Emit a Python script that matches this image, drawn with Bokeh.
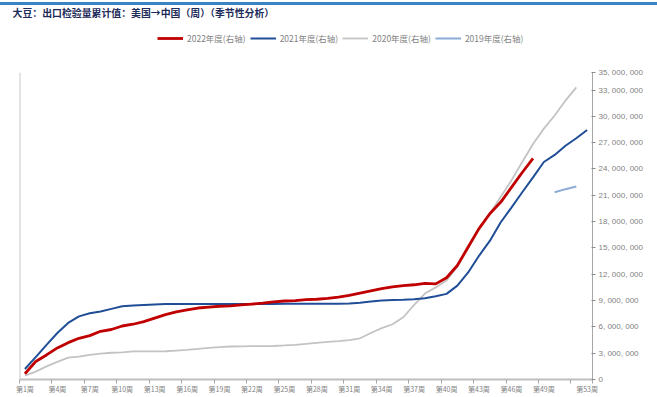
from bokeh.plotting import figure
from bokeh.layouts import column
from bokeh.models import (FixedTicker, Range1d, Legend, LegendItem, Title, Span)
from bokeh.embed import file_html
from bokeh.resources import INLINE

# Cumulative weekly export inspections, US -> China (million tonnes on the axis scale)
weeks_2022 = list(range(1, 49))
vals_2022 = [0.65, 2.05, 2.8, 3.6, 4.2, 4.7, 5.0, 5.5, 5.7, 6.1,
             6.3, 6.6, 7.0, 7.4, 7.7, 7.95, 8.15, 8.25, 8.35, 8.4,
             8.5, 8.6, 8.7, 8.85, 8.95, 9.0, 9.1, 9.15, 9.25, 9.4,
             9.6, 9.85, 10.1, 10.35, 10.55, 10.7, 10.8, 10.95, 10.9, 11.6,
             13.0, 15.1, 17.2, 18.9, 20.2, 21.9, 23.6, 25.2]

weeks_2021 = list(range(1, 54))
vals_2021 = [1.2, 2.55, 3.95, 5.3, 6.45, 7.2, 7.55, 7.75, 8.05, 8.35,
             8.45, 8.5, 8.55, 8.6, 8.6, 8.6, 8.6, 8.6, 8.6, 8.6,
             8.6, 8.62, 8.62, 8.62, 8.63, 8.63, 8.64, 8.64, 8.65, 8.65,
             8.67, 8.75, 8.9, 9.0, 9.05, 9.08, 9.15, 9.27, 9.5, 9.76,
             10.7, 12.2, 14.1, 15.8, 17.9, 19.6, 21.35, 23.05, 24.8, 25.6,
             26.65, 27.5, 28.45]

weeks_2020 = list(range(1, 53))
vals_2020 = [0.45, 0.9, 1.5, 2.0, 2.5, 2.6, 2.8, 2.95, 3.05, 3.1,
             3.2, 3.2, 3.2, 3.22, 3.3, 3.38, 3.5, 3.6, 3.7, 3.76,
             3.78, 3.8, 3.8, 3.82, 3.88, 3.95, 4.05, 4.18, 4.28, 4.37,
             4.5, 4.7, 5.3, 5.85, 6.3, 7.1, 8.5, 9.8, 10.5, 11.3,
             12.9, 15.0, 17.2, 18.9, 20.8, 22.7, 24.8, 26.85, 28.6, 30.1,
             31.8, 33.3]

weeks_2019 = [50, 51, 52]
vals_2019 = [21.35, 21.7, 22.0]

x_tick_weeks = [1, 4, 7, 10, 13, 16, 19, 22, 25, 28, 31, 34, 37, 40, 43, 46, 49, 53]
x_tick_labels = ["第1周", "第4周", "第7周", "第10周", "第13周", "第16周", "第19周",
                 "第22周", "第25周", "第28周", "第31周", "第34周", "第37周",
                 "第40周", "第43周", "第46周", "第49周", "第53周"]
x_tick_marks = [0.5, 3.5, 6.5, 9.5, 12.5, 15.5, 18.5, 21.5, 24.5, 27.5, 30.5,
                33.5, 36.5, 39.5, 42.5, 45.5, 48.5, 51.5, 53.5]

y_ticks = [0, 3, 6, 9, 12, 15, 18, 21, 24, 27, 30, 33, 35]
y_tick_labels = ["0", "3, 000, 000", "6, 000, 000", "9, 000, 000", "12, 000, 000",
                 "15, 000, 000", "18, 000, 000", "21, 000, 000", "24, 000, 000",
                 "27, 000, 000", "30, 000, 000", "33, 000, 000", "35, 000, 000"]

series_names = ["2022年度(右轴)", "2021年度(右轴)", "2020年度(右轴)", "2019年度(右轴)"]
series_colors = ["#c00000", "#1f4e96", "#c3c3c3", "#8eaad6"]
series_widths = [2.8, 2.0, 1.8, 2.0]
title_text = "大豆：出口检验量累计值：美国→中国（周）（季节性分析）"

CJK = "Noto Sans CJK SC"
AXIS_GREY = "#bfbfbf"
LABEL_GREY = "#7f7f7f"
RULE_BLUE = "#3b84c4"
W = 657
HEADER_H = 54
MAIN_H = 337

# ---- header: title and legend ----
head = figure(width=W, height=HEADER_H, output_backend="svg", toolbar_location=None,
              x_axis_type=None, y_axis_type=None,
              x_range=Range1d(0, 1), y_range=Range1d(0, 1),
              min_border_left=0, min_border_right=0, min_border_top=0,
              min_border_bottom=0)
head.outline_line_color = None
head.grid.visible = False
head.title = Title(text=title_text, text_font=CJK, text_font_size="9.9px",
                   text_font_style="bold", text_color="#1c2b5a",
                   align="left", vertical_align="top", offset=-7, standoff=0)

nan = float("nan")
key_renderers = [head.line(x=[0, 1], y=[nan, nan], line_color=c, line_width=w)
                 for c, w in zip(series_colors, series_widths)]
legend = Legend(items=[LegendItem(label=n, renderers=[r])
                       for n, r in zip(series_names, key_renderers)],
                orientation="horizontal", location=(138, 15),
                glyph_width=26, glyph_height=10, label_standoff=4, spacing=4,
                padding=0, margin=0, border_line_color=None,
                background_fill_alpha=0, label_text_font=CJK,
                label_text_font_size="8.5px", label_text_color=LABEL_GREY)
head.add_layout(legend)

# ---- main chart ----
p = figure(width=W, height=MAIN_H, output_backend="svg", toolbar_location=None,
           x_range=Range1d(0.5, 53.5), y_range=Range1d(0, 35),
           y_axis_location="right",
           min_border_left=19, min_border_right=65, min_border_top=13,
           min_border_bottom=16)
p.outline_line_color = None
p.xgrid.visible = False
p.ygrid.visible = False

p.line(weeks_2020, vals_2020, line_color=series_colors[2], line_width=series_widths[2])
p.line(weeks_2019, vals_2019, line_color=series_colors[3], line_width=series_widths[3])
p.line(weeks_2021, vals_2021, line_color=series_colors[1], line_width=series_widths[1])
p.line(weeks_2022, vals_2022, line_color=series_colors[0], line_width=series_widths[0])

# bottom axis: tick marks between categories, labels at category centres
xa = p.xaxis[0]
xa.ticker = FixedTicker(ticks=x_tick_weeks, minor_ticks=x_tick_marks)
xa.major_label_overrides = dict(zip(x_tick_weeks, x_tick_labels))
xa.major_tick_line_color = None
xa.major_tick_out = 0
xa.major_tick_in = 0
xa.minor_tick_line_color = "#a6a6a6"
xa.minor_tick_in = 0
xa.minor_tick_out = 4
xa.axis_line_color = AXIS_GREY
xa.axis_line_width = 2
xa.major_label_standoff = 0
xa.major_label_text_font = CJK
xa.major_label_text_font_size = "7px"
xa.major_label_text_color = LABEL_GREY

# right axis
ya = p.yaxis[0]
ya.ticker = FixedTicker(ticks=y_ticks)
ya.major_label_overrides = dict(zip(y_ticks, y_tick_labels))
ya.minor_tick_line_color = None
ya.major_tick_in = 1
ya.major_tick_out = 3
ya.major_tick_line_color = "#8c8c8c"
ya.axis_line_color = "#a6a6a6"
ya.axis_line_width = 1
ya.major_label_standoff = 3
ya.major_label_text_font = "Liberation Sans"
ya.major_label_text_font_size = "8px"
ya.major_label_text_color = LABEL_GREY

# left frame edge
p.add_layout(Span(location=0.5, dimension="height", line_color="#c8c8c8",
                  line_width=2))

# blue rule across the top of the whole panel
layout = column(head, p, spacing=0, margin=(2, 0, 0, 0),
                styles={"border-top": f"3.5px solid {RULE_BLUE}"})

with open("out.html", "w") as f:
    f.write(file_html(layout, INLINE))
